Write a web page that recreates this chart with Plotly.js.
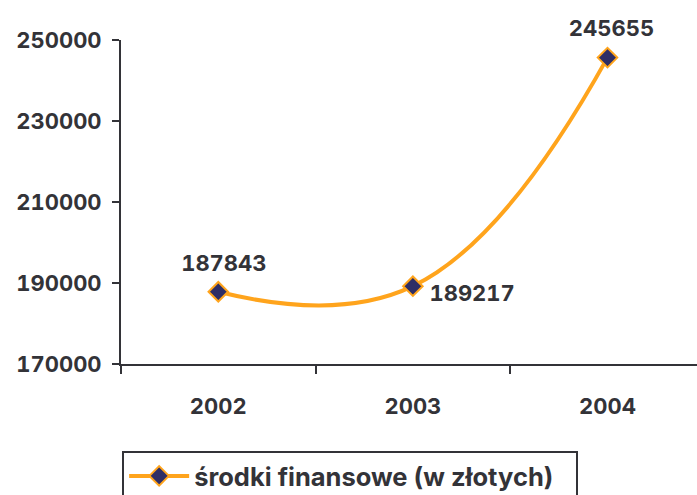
<!DOCTYPE html>
<html><head><meta charset="utf-8">
<script src="https://cdn.plot.ly/plotly-3.0.1.min.js"></script>
<style>html,body{margin:0;padding:0;background:#fff}#c{width:697px;height:495px}
#c .annotation-text, #c .xtick text, #c .ytick text{font-feature-settings:"tnum" 1;}</style>
</head><body><div id="c"></div>
<script>
const years = ['2002', '2003', '2004'];
const values = [187843, 189217, 245655];
const yTicks = [170000, 190000, 210000, 230000, 250000];
const seriesName = 'środki finansowe (w złotych)';

const txt = '#333338';
const mkFont = (s) => ({family: 'Inter, Liberation Sans, Arial, sans-serif', size: s, color: txt, weight: 'bold'});

// label placement offsets (pixels) per point
const lblShift = [{xs: 6, ys: 29, xa: 'center'}, {xs: 20, ys: -7, xa: 'left'}, {xs: 4, ys: 30, xa: 'center'}];

const trace = {
  x: years, y: values, type: 'scatter', mode: 'lines+markers',
  name: seriesName,
  line: {color: '#FFA41C', width: 4, shape: 'spline', smoothing: 1.25},
  marker: {symbol: 'diamond', size: 15, color: '#2E2E66', line: {color: '#FFA41C', width: 2}},
  cliponaxis: false
};

const annotations = years.map((yr, i) => ({
  x: i, y: values[i], xref: 'x', yref: 'y', text: String(values[i]), showarrow: false,
  xanchor: lblShift[i].xa, yanchor: 'middle', xshift: lblShift[i].xs, yshift: lblShift[i].ys,
  font: mkFont(22)
}));

const layout = {
  width: 697, height: 495,
  margin: {l: 121, r: 0, t: 40, b: 131, autoexpand: false},
  paper_bgcolor: '#fff', plot_bgcolor: '#fff',
  showlegend: true,
  font: mkFont(22),
  annotations: annotations,
  xaxis: {type: 'category', range: [-0.5, 2.46], showgrid: false, zeroline: false,
    showline: true, linecolor: '#333338', linewidth: 2,
    ticks: 'outside', ticklen: 8, tickcolor: '#333338', tickwidth: 2,
    tickson: 'boundaries', tickfont: mkFont(22), ticklabelstandoff: 22},
  yaxis: {range: [170000, 250000], tickvals: yTicks, ticktext: yTicks.map(String),
    showgrid: false, zeroline: false, showline: true, linecolor: '#333338', linewidth: 2,
    ticks: 'outside', ticklen: 7, tickcolor: '#333338', tickwidth: 2, tickfont: mkFont(22),
    ticklabelstandoff: 6},
  legend: {orientation: 'h', x: 0.002, xanchor: 'left', y: -0.268, yanchor: 'top',
    bordercolor: '#333338', borderwidth: 2, font: mkFont(25.5), bgcolor: '#fff',
    itemwidth: 60, entrywidth: 377}
};
Plotly.newPlot('c', [trace], layout, {staticPlot: true});
</script></body></html>
